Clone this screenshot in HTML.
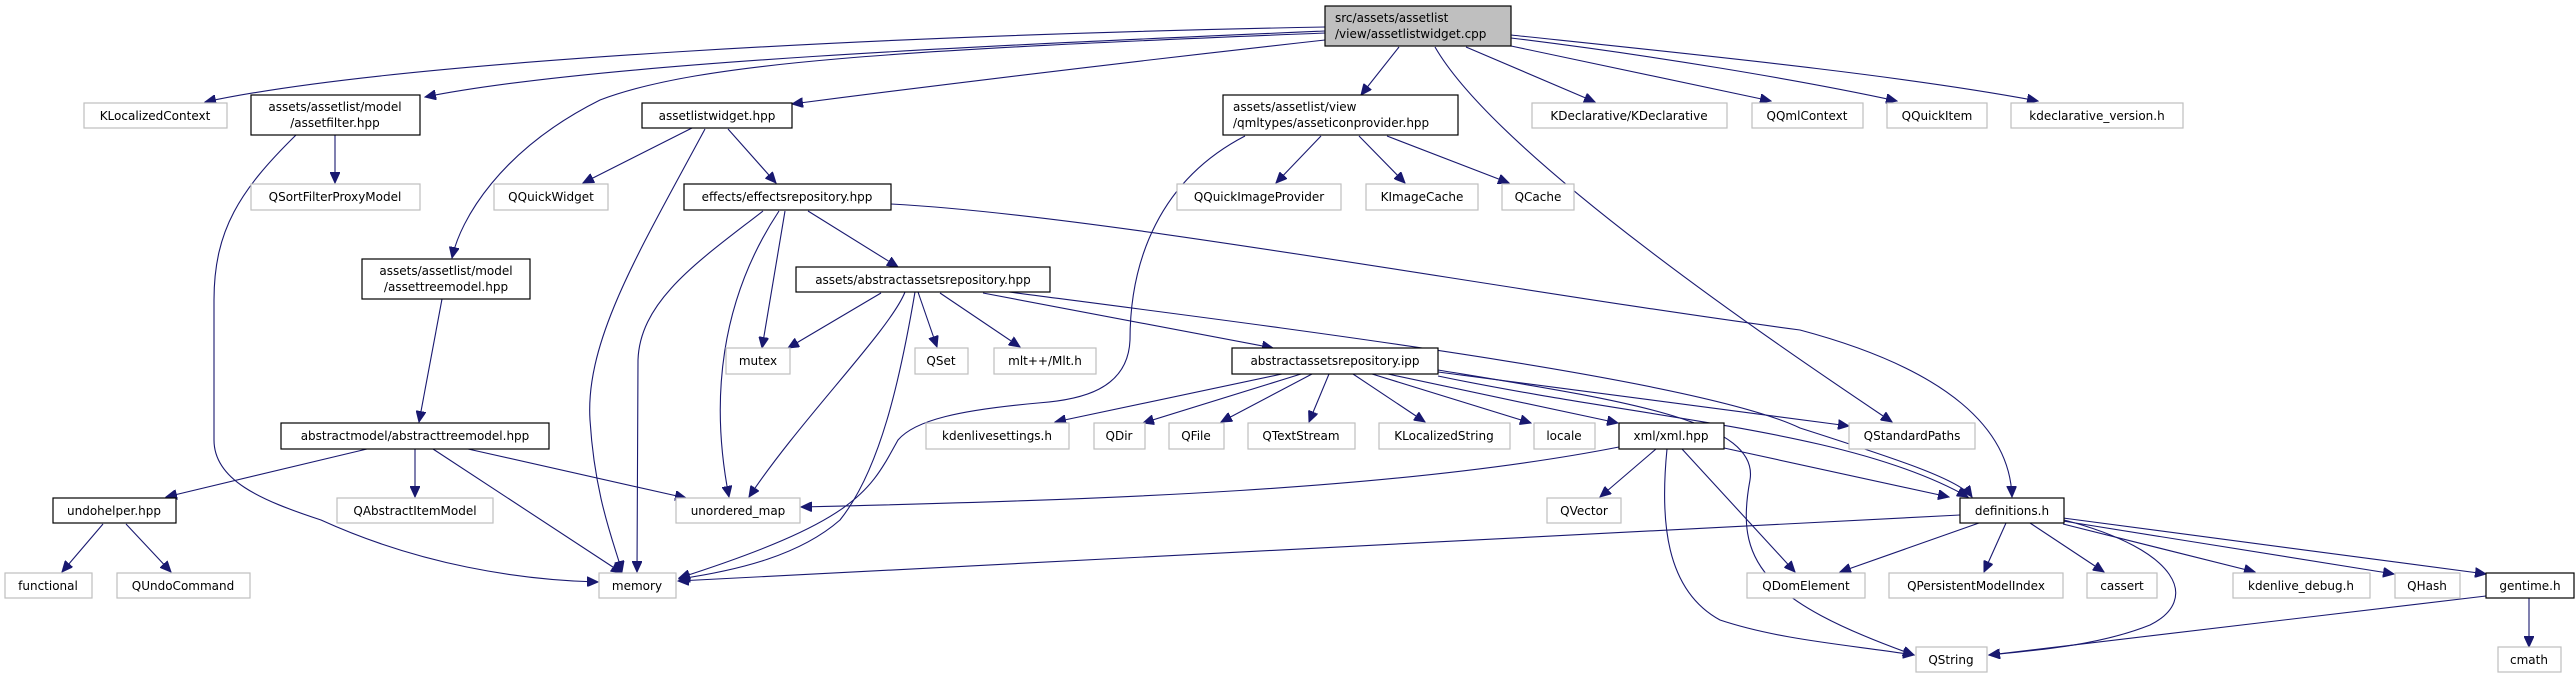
<!DOCTYPE html>
<html><head><meta charset="utf-8"><style>
html,body{margin:0;padding:0;background:#fff;}
svg{display:block;}
text{font-family:"DejaVu Sans","Liberation Sans",sans-serif;font-size:12px;fill:#000;text-anchor:middle;}
.n{fill:#fff;stroke:#000;stroke-width:1.2;}
.g{fill:#fff;stroke:#bfbfbf;stroke-width:1.2;}
.r{fill:#bfbfbf;stroke:#000;stroke-width:1.2;}
path.e{fill:none;stroke:#191970;stroke-width:1.1;marker-end:url(#a);}
</style></head><body>
<svg width="2575" height="679" viewBox="0 0 2575 679" xmlns="http://www.w3.org/2000/svg">
<defs><marker id="a" markerUnits="userSpaceOnUse" markerWidth="12" markerHeight="10" refX="11" refY="5" orient="auto"><path d="M0,0 L11,5 L0,10 z" fill="#191970" stroke="#191970"/></marker></defs>

<!-- edges -->
<path class="e" d="M1325,27 C900,35 400,60 205,102"/>
<path class="e" d="M1325,31 C1000,45 600,62 425,97"/>
<path class="e" d="M1325,33 C900,50 700,62 600,100 C500,150 460,220 452,258"/>
<path class="e" d="M1325,40 C1100,65 900,90 792,104"/>
<path class="e" d="M1399,47 L1361,95"/>
<path class="e" d="M1435,47 C1500,160 1800,360 1892,422"/>
<path class="e" d="M1466,47 L1595,102"/>
<path class="e" d="M1511,46 L1771,101"/>
<path class="e" d="M1511,38 C1650,55 1800,80 1897,101"/>
<path class="e" d="M1511,35 C1700,55 1900,75 2038,101"/>

<path class="e" d="M335,135 L335,183"/>
<path class="e" d="M296,135 C240,190 214,230 214,300 L214,440 C214,480 260,500 321,520 C420,565 520,580 598,582"/>

<path class="e" d="M692,128 L583,183"/>
<path class="e" d="M705,129 C640,250 585,340 590,420 C595,500 615,545 622,572"/>
<path class="e" d="M728,129 L776,183"/>

<path class="e" d="M1321,136 L1276,183"/>
<path class="e" d="M1359,136 L1405,183"/>
<path class="e" d="M1387,136 L1509,183"/>
<path class="e" d="M1245,136 C1160,180 1130,260 1130,340 C1128,390 1080,400 1038,403 C960,410 915,420 898,440 C870,490 860,520 679,578"/>

<path class="e" d="M763,211 C700,260 640,300 638,360 L637,572"/>
<path class="e" d="M779,211 C720,300 710,400 729,497"/>
<path class="e" d="M785,211 L762,348"/>
<path class="e" d="M808,211 L898,267"/>
<path class="e" d="M891,204 C1100,215 1500,290 1800,330 C1950,370 2010,430 2012,497"/>

<path class="e" d="M442,299 L419,422"/>

<path class="e" d="M881,293 L788,348"/>
<path class="e" d="M905,292 C890,330 800,420 749,497"/>
<path class="e" d="M915,292 C900,380 880,470 840,520 C800,555 740,570 679,579"/>
<path class="e" d="M918,292 L937,347"/>
<path class="e" d="M940,293 L1020,347"/>
<path class="e" d="M983,293 L1273,348"/>
<path class="e" d="M1009,292 C1300,330 1700,380 1800,428 C1900,460 1960,480 1972,497"/>

<path class="e" d="M1282,374 L1055,422"/>
<path class="e" d="M1301,374 L1143,423"/>
<path class="e" d="M1312,374 L1221,422"/>
<path class="e" d="M1329,374 L1309,422"/>
<path class="e" d="M1353,374 L1425,422"/>
<path class="e" d="M1372,374 L1531,423"/>
<path class="e" d="M1388,374 L1618,423"/>
<path class="e" d="M1438,372 L1849,426"/>
<path class="e" d="M1438,376 C1650,420 1850,430 1968,497"/>
<path class="e" d="M1438,370 C1620,400 1760,420 1750,480 C1735,560 1760,600 1914,655"/>

<path class="e" d="M1619,447 C1400,490 1100,500 801,507"/>
<path class="e" d="M1656,449 L1600,497"/>
<path class="e" d="M1682,449 L1795,572"/>
<path class="e" d="M1667,449 C1660,520 1665,590 1720,620 C1780,640 1850,645 1914,655"/>
<path class="e" d="M1724,448 L1949,497"/>

<path class="e" d="M1960,515 L678,581"/>
<path class="e" d="M1979,523 L1840,572"/>
<path class="e" d="M2006,523 L1984,572"/>
<path class="e" d="M2030,523 L2104,572"/>
<path class="e" d="M2064,520 C2180,550 2200,600 2150,625 C2100,645 2040,650 1989,655"/>
<path class="e" d="M2063,524 L2255,572"/>
<path class="e" d="M2063,521 L2394,574"/>
<path class="e" d="M2063,518 L2486,574"/>
<path class="e" d="M2486,596 L1989,655"/>
<path class="e" d="M2529,598 L2529,647"/>

<path class="e" d="M367,449 L166,497"/>
<path class="e" d="M415,449 L415,497"/>
<path class="e" d="M433,449 L622,573"/>
<path class="e" d="M468,449 L686,498"/>
<path class="e" d="M103,524 L62,572"/>
<path class="e" d="M126,524 L171,572"/>

<!-- nodes -->
<rect class="r" x="1325" y="6" width="186" height="40"/><text x="1335" y="22" style="text-anchor:start">src/assets/assetlist</text><text x="1335" y="38" style="text-anchor:start">/view/assetlistwidget.cpp</text>

<rect class="g" x="84" y="103" width="143" height="25"/><text x="155" y="120">KLocalizedContext</text>
<rect class="n" x="251" y="95" width="169" height="40"/><text x="335" y="111">assets/assetlist/model</text><text x="335" y="127">/assetfilter.hpp</text>
<rect class="n" x="642" y="103" width="150" height="25"/><text x="717" y="120">assetlistwidget.hpp</text>
<rect class="n" x="1223" y="95" width="235" height="40"/><text x="1233" y="111" style="text-anchor:start">assets/assetlist/view</text><text x="1233" y="127" style="text-anchor:start">/qmltypes/asseticonprovider.hpp</text>
<rect class="g" x="1532" y="103" width="195" height="25"/><text x="1629" y="120">KDeclarative/KDeclarative</text>
<rect class="g" x="1752" y="103" width="111" height="25"/><text x="1807" y="120">QQmlContext</text>
<rect class="g" x="1887" y="103" width="100" height="25"/><text x="1937" y="120">QQuickItem</text>
<rect class="g" x="2011" y="103" width="172" height="25"/><text x="2097" y="120">kdeclarative_version.h</text>

<rect class="g" x="251" y="184" width="169" height="26"/><text x="335" y="201">QSortFilterProxyModel</text>
<rect class="g" x="494" y="184" width="114" height="26"/><text x="551" y="201">QQuickWidget</text>
<rect class="n" x="684" y="184" width="207" height="26"/><text x="787" y="201">effects/effectsrepository.hpp</text>
<rect class="g" x="1177" y="184" width="164" height="26"/><text x="1259" y="201">QQuickImageProvider</text>
<rect class="g" x="1366" y="184" width="112" height="26"/><text x="1422" y="201">KImageCache</text>
<rect class="g" x="1502" y="184" width="72" height="26"/><text x="1538" y="201">QCache</text>

<rect class="n" x="362" y="259" width="168" height="40"/><text x="446" y="275">assets/assetlist/model</text><text x="446" y="291">/assettreemodel.hpp</text>
<rect class="n" x="796" y="267" width="254" height="25"/><text x="923" y="284">assets/abstractassetsrepository.hpp</text>

<rect class="g" x="726" y="348" width="64" height="26"/><text x="758" y="365">mutex</text>
<rect class="g" x="915" y="348" width="53" height="26"/><text x="941" y="365">QSet</text>
<rect class="g" x="994" y="348" width="102" height="26"/><text x="1045" y="365">mlt++/Mlt.h</text>
<rect class="n" x="1232" y="348" width="206" height="26"/><text x="1335" y="365">abstractassetsrepository.ipp</text>

<rect class="n" x="281" y="423" width="268" height="26"/><text x="415" y="440">abstractmodel/abstracttreemodel.hpp</text>
<rect class="g" x="926" y="423" width="143" height="26"/><text x="997" y="440">kdenlivesettings.h</text>
<rect class="g" x="1094" y="423" width="51" height="26"/><text x="1119" y="440">QDir</text>
<rect class="g" x="1169" y="423" width="55" height="26"/><text x="1196" y="440">QFile</text>
<rect class="g" x="1248" y="423" width="107" height="26"/><text x="1301" y="440">QTextStream</text>
<rect class="g" x="1379" y="423" width="131" height="26"/><text x="1444" y="440">KLocalizedString</text>
<rect class="g" x="1534" y="423" width="61" height="26"/><text x="1564" y="440">locale</text>
<rect class="n" x="1619" y="423" width="105" height="26"/><text x="1671" y="440">xml/xml.hpp</text>
<rect class="g" x="1849" y="423" width="126" height="26"/><text x="1912" y="440">QStandardPaths</text>

<rect class="n" x="53" y="498" width="123" height="25"/><text x="114" y="515">undohelper.hpp</text>
<rect class="g" x="337" y="498" width="156" height="25"/><text x="415" y="515">QAbstractItemModel</text>
<rect class="g" x="676" y="498" width="124" height="25"/><text x="738" y="515">unordered_map</text>
<rect class="g" x="1547" y="498" width="74" height="25"/><text x="1584" y="515">QVector</text>
<rect class="n" x="1960" y="498" width="104" height="25"/><text x="2012" y="515">definitions.h</text>

<rect class="g" x="5" y="573" width="87" height="25"/><text x="48" y="590">functional</text>
<rect class="g" x="117" y="573" width="133" height="25"/><text x="183" y="590">QUndoCommand</text>
<rect class="g" x="599" y="573" width="77" height="25"/><text x="637" y="590">memory</text>
<rect class="g" x="1747" y="573" width="118" height="25"/><text x="1806" y="590">QDomElement</text>
<rect class="g" x="1889" y="573" width="174" height="25"/><text x="1976" y="590">QPersistentModelIndex</text>
<rect class="g" x="2087" y="573" width="70" height="25"/><text x="2122" y="590">cassert</text>
<rect class="g" x="2233" y="573" width="137" height="25"/><text x="2301" y="590">kdenlive_debug.h</text>
<rect class="g" x="2395" y="573" width="65" height="25"/><text x="2427" y="590">QHash</text>
<rect class="n" x="2486" y="573" width="88" height="25"/><text x="2530" y="590">gentime.h</text>

<rect class="g" x="1916" y="647" width="71" height="25"/><text x="1951" y="664">QString</text>
<rect class="g" x="2498" y="647" width="63" height="25"/><text x="2529" y="664">cmath</text>
</svg>
</body></html>
